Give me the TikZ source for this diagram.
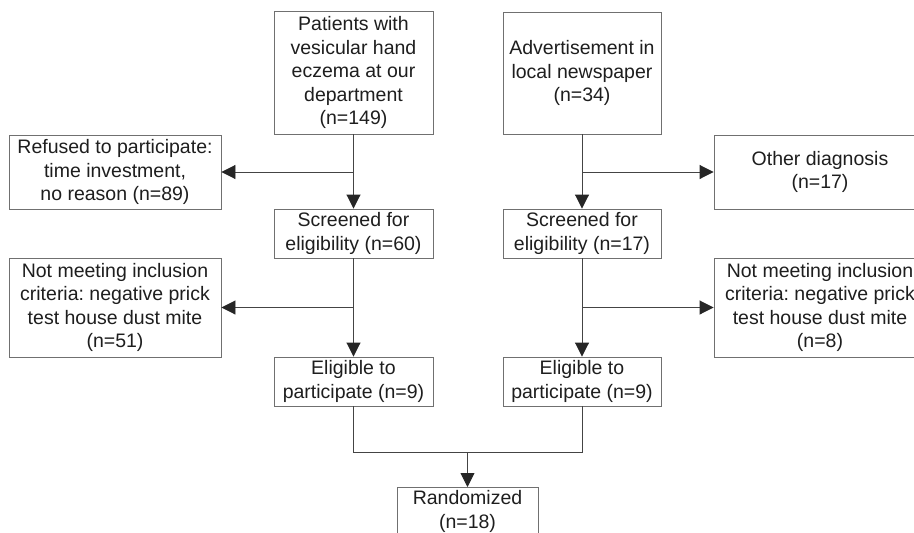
\documentclass[tikz,border=0pt]{standalone}
\usepackage{fontspec}
\setmainfont{Liberation Sans}
\usetikzlibrary{arrows.meta,calc}
\definecolor{boxline}{HTML}{707070}
\definecolor{txt}{HTML}{1E1E1E}
\definecolor{conn}{HTML}{444444}
\frenchspacing
\begin{document}
\begin{tikzpicture}[x=1pt,y=-1pt,
  box/.style={draw=boxline,line width=0.9pt,rectangle,align=center,inner sep=0pt,
    text=txt,font=\fontsize{19.5}{23.5}\selectfont\frenchspacing},
  conn/.style={draw=conn,line width=0.9pt},
  arr/.style={conn,-{Triangle[length=14pt,width=14pt,color=black!85]}}]
\useasboundingbox (0,0) rectangle (914,533);
\clip (0,0) rectangle (914,533);
\fill[white] (0,0) rectangle (914,533);
% left column
\node[box,minimum width=159pt,minimum height=123pt] (pat) at (353.5,72.5)
  {Patients with\\vesicular hand\\eczema at our\\department\\(n=149)};
\node[box,minimum width=212pt,minimum height=74pt] (ref) at (115,172)
  {Refused to participate:\\time investment,\\no reason (n=89)};
\node[box,minimum width=159pt,minimum height=49pt] (scrl) at (353.5,233.5)
  {Screened for\\eligibility (n=60)};
\node[box,minimum width=212pt,minimum height=99pt] (notl) at (115,307.5)
  {Not meeting inclusion\\criteria: negative prick\\test house dust mite\\(n=51)};
\node[box,minimum width=159pt,minimum height=49pt] (elil) at (353.5,381.5)
  {Eligible to\\participate (n=9)};
% right column
\node[box,minimum width=158pt,minimum height=122pt] (adv) at (582,73)
  {Advertisement in\\local newspaper\\(n=34)};
\node[box,minimum width=212pt,minimum height=74pt] (oth) at (820,172)
  {Other diagnosis\\(n=17)};
\node[box,minimum width=158pt,minimum height=49pt] (scrr) at (582,233.5)
  {Screened for\\eligibility (n=17)};
\node[box,minimum width=212pt,minimum height=99pt] (notr) at (820,307.5)
  {Not meeting inclusion\\criteria: negative prick\\test house dust mite\\(n=8)};
\node[box,minimum width=158pt,minimum height=49pt] (elir) at (582,381.5)
  {Eligible to\\participate (n=9)};
% bottom
\node[box,minimum width=141pt,minimum height=48pt,anchor=north] (ran) at (467.5,487)
  {Randomized\\(n=18)};
% connectors
\coordinate (bl1) at (pat.south |- ref.east);
\coordinate (bl2) at (scrl.south |- notl.east);
\coordinate (br1) at (adv.south |- oth.west);
\coordinate (br2) at (scrr.south |- notr.west);
\draw[arr] (pat.south) -- (scrl.north);
\draw[arr] (bl1) -- (ref.east);
\draw[arr] (scrl.south) -- (elil.north);
\draw[arr] (bl2) -- (notl.east);
\draw[arr] (adv.south) -- (scrr.north);
\draw[arr] (br1) -- (oth.west);
\draw[arr] (scrr.south) -- (elir.north);
\draw[arr] (br2) -- (notr.west);
\coordinate (ml) at ($(elil.south)+(0,46)$);
\coordinate (mr) at ($(elir.south)+(0,46)$);
\coordinate (mm) at (ran.north |- ml);
\draw[conn] (elil.south) -- (ml) -- (mr) -- (elir.south);
\draw[arr] (mm) -- (ran.north);
\end{tikzpicture}
\end{document}
